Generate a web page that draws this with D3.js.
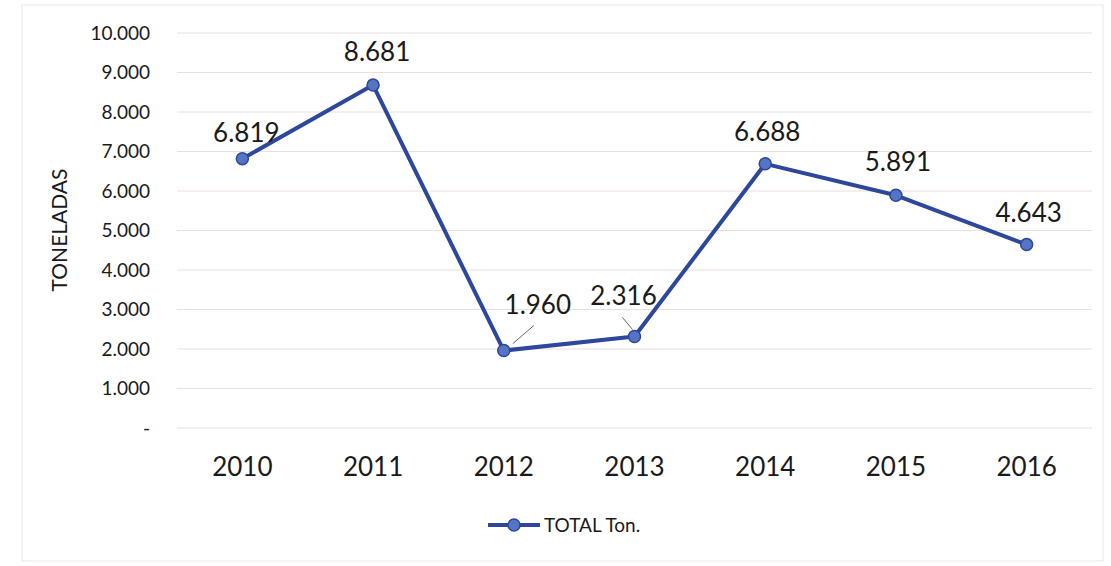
<!DOCTYPE html>
<html>
<head>
<meta charset="utf-8">
<script src="https://cdn.jsdelivr.net/npm/d3@7"></script>
<style>
  body { margin: 0; background: #fff; }
  text { font-family: Lato, "Noto Sans", sans-serif; fill: #1a1a1a; }
</style>
</head>
<body>
<script>
// Data
var years = ["2010", "2011", "2012", "2013", "2014", "2015", "2016"];
var toneladas = [6819, 8681, 1960, 2316, 6688, 5891, 4643];
var valueLabels = ["6.819", "8.681", "1.960", "2.316", "6.688", "5.891", "4.643"];
var yTicks = [0, 1000, 2000, 3000, 4000, 5000, 6000, 7000, 8000, 9000, 10000];
var seriesName = "TOTAL Ton.";

var W = 1111, H = 566;
var margin = {top: 33, right: 19, bottom: 138, left: 177},
    width = W - margin.left - margin.right,
    height = H - margin.top - margin.bottom;

var svg = d3.select("body").append("svg")
    .attr("width", W)
    .attr("height", H);

// faint frame
svg.append("rect")
    .attr("x", 22).attr("y", 5)
    .attr("width", W - 30).attr("height", H - 10)
    .style("fill", "none")
    .style("stroke", "#efe4e4");

var g = svg.append("g")
    .attr("transform", "translate(" + margin.left + "," + margin.top + ")");

// Scales
var xScale = d3.scaleBand().domain(years).range([0, width]);
var yScale = d3.scaleLinear().domain([0, 10000]).range([height, 0]);
var xc = function(d) { return xScale(d) + xScale.bandwidth() / 2; };

var fmt = function(v) {
    if (v === 0) return "-";
    return d3.format(",")(v).replace(/,/g, ".");
};

// Gridlines
g.append("g")
    .selectAll("line")
    .data(yTicks)
    .enter().append("line")
    .attr("x1", 0).attr("x2", width)
    .attr("y1", function(d) { return yScale(d); })
    .attr("y2", function(d) { return yScale(d); })
    .style("stroke", "#eadede")
    .style("stroke-width", 1);

// Y axis
var yaxis = d3.axisLeft(yScale)
    .tickValues(yTicks)
    .tickSize(0)
    .tickPadding(27)
    .tickFormat(fmt);

g.append("g")
    .attr("class", "axis")
    .call(yaxis)
    .call(function(a) { a.select(".domain").remove(); })
    .selectAll("text")
    .style("font-size", "19px")
    .style("fill", "#1a1a1a");

// X axis
var xaxis = d3.axisBottom(xScale).tickSize(0).tickPadding(30);
g.append("g")
    .attr("transform", "translate(0," + height + ")")
    .call(xaxis)
    .call(function(a) { a.select(".domain").remove(); })
    .selectAll("text")
    .style("font-size", "26px")
    .style("fill", "#1a1a1a");

// Y title
svg.append("text")
    .attr("transform", "translate(67,230) rotate(-90)")
    .style("text-anchor", "middle")
    .style("font-size", "21px")
    .text("TONELADAS");

// Line
var line = d3.line()
    .x(function(d, i) { return xc(years[i]); })
    .y(function(d) { return yScale(d); });

g.append("path")
    .datum(toneladas)
    .attr("d", line)
    .style("fill", "none")
    .style("stroke", "#2c479b")
    .style("stroke-width", 4)
    .style("stroke-linejoin", "round");

g.selectAll(".dot")
    .data(toneladas)
    .enter().append("circle")
    .attr("class", "dot")
    .attr("cx", function(d, i) { return xc(years[i]); })
    .attr("cy", function(d) { return yScale(d); })
    .attr("r", 6)
    .style("fill", "#5674c4")
    .style("stroke", "#2c479b")
    .style("stroke-width", 1.5);

// Data labels (offsets from point)
var labelDx = [4, 4, 34, -11, 2, 2, 2];
var labelDy = [-17, -24, -37, -32, -23, -24, -23];
g.selectAll(".lbl")
    .data(toneladas)
    .enter().append("text")
    .attr("class", "lbl")
    .attr("x", function(d, i) { return xc(years[i]) + labelDx[i]; })
    .attr("y", function(d, i) { return yScale(d) + labelDy[i]; })
    .style("text-anchor", "middle")
    .style("font-size", "26px")
    .text(function(d, i) { return valueLabels[i]; });

// leader lines for 2012, 2013
var leaders = [{i: 2, x1: 9, y1: -7, x2: 30, y2: -25}, {i: 3, x1: -2, y1: -7, x2: -12, y2: -19}];
g.selectAll(".leader")
    .data(leaders)
    .enter().append("line")
    .attr("x1", function(d) { return xc(years[d.i]) + d.x1; })
    .attr("y1", function(d) { return yScale(toneladas[d.i]) + d.y1; })
    .attr("x2", function(d) { return xc(years[d.i]) + d.x2; })
    .attr("y2", function(d) { return yScale(toneladas[d.i]) + d.y2; })
    .style("stroke", "#666")
    .style("stroke-width", 1);

// Legend
var lg = svg.append("g").attr("transform", "translate(488,525)");
lg.append("line")
    .attr("x1", 0).attr("x2", 52)
    .style("stroke", "#2c479b")
    .style("stroke-width", 4);
lg.append("circle")
    .attr("cx", 26).attr("r", 6)
    .style("fill", "#5674c4")
    .style("stroke", "#2c479b")
    .style("stroke-width", 1.5);
lg.append("text")
    .attr("x", 56).attr("y", 7)
    .style("font-size", "19px")
    .text(seriesName);
</script>
</body>
</html>
